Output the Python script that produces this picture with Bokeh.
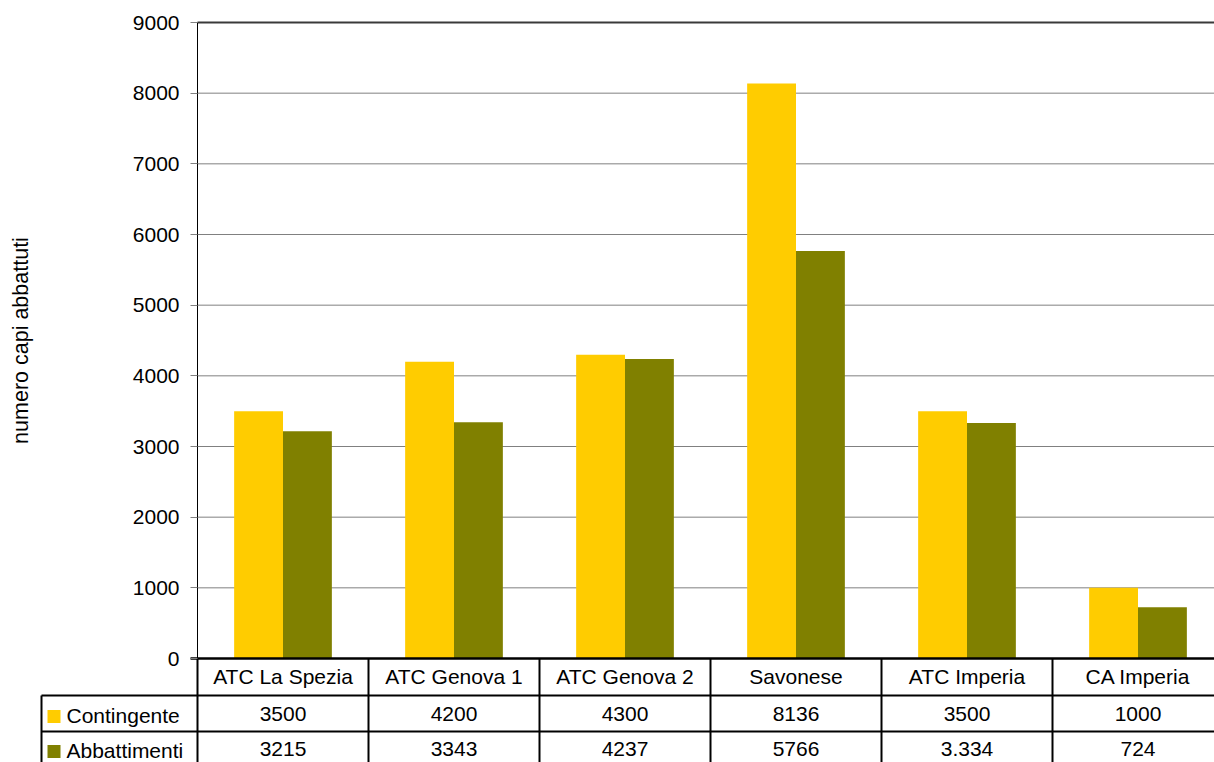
import math
from bokeh.plotting import figure
from bokeh.models import Range1d, LinearAxis, FixedTicker
from bokeh.core.properties import value
from bokeh.embed import file_html
from bokeh.resources import INLINE

# ---- data ----
categories = ["ATC La Spezia", "ATC Genova 1", "ATC Genova 2", "Savonese", "ATC Imperia", "CA Imperia"]
series_names = ["Contingente", "Abbattimenti"]
contingente = [3500, 4200, 4300, 8136, 3500, 1000]
abbattimenti = [3215, 3343, 4237, 5766, 3334, 724]
contingente_labels = ["3500", "4200", "4300", "8136", "3500", "1000"]
abbattimenti_labels = ["3215", "3343", "4237", "5766", "3.334", "724"]
y_ticks = [0, 1000, 2000, 3000, 4000, 5000, 6000, 7000, 8000, 9000]
y_title = "numero capi abbattuti"

colors = ["#FFCC00", "#808000"]
FONT = "Liberation Sans"
FS = "21px"

W, H = 1214, 762
left_px, top_px, zero_px = 197, 22, 658
cat_px = 171.0
ppu = (zero_px - top_px) / 9000.0
x_start = -left_px / cat_px
x_end = (W - left_px) / cat_px
y_start = -(H - zero_px) / ppu
y_end = 9000 + top_px / ppu

p = figure(width=W, height=H, output_backend="svg", toolbar_location=None,
           x_range=Range1d(x_start, x_end), y_range=Range1d(y_start, y_end),
           x_axis_location=None, y_axis_location=None, min_border=0,
           outline_line_color=None, background_fill_color="white",
           border_fill_color="white")
p.xgrid.visible = False
p.ygrid.visible = False
p.extra_x_ranges = {"px": Range1d(0, W)}
p.extra_y_ranges = {"px": Range1d(H, 0)}

n = len(categories)
xmax = max(y_ticks)

# gridlines
grid_y = [t for t in y_ticks if 0 < t < xmax]
p.segment(x0=[0] * len(grid_y), x1=[x_end] * len(grid_y), y0=grid_y, y1=grid_y,
          line_color="#808080", line_width=1)
p.segment(x0=[0], x1=[x_end], y0=[xmax], y1=[xmax], line_color="#3a3a3a", line_width=2)

# bars
bw = 1 / 3.5
centers = [i + 0.5 for i in range(n)]
p.vbar(x=[c - bw / 2 for c in centers], top=contingente, bottom=0, width=bw,
       fill_color=colors[0], line_color=None)
p.vbar(x=[c + bw / 2 for c in centers], top=abbattimenti, bottom=0, width=bw,
       fill_color=colors[1], line_color=None)

# y axis
yaxis = LinearAxis(fixed_location=0, ticker=FixedTicker(ticks=y_ticks),
                   bounds=(y_start, xmax))
yaxis.axis_line_color = "black"
yaxis.axis_line_width = 1
yaxis.major_tick_out = 7
yaxis.major_tick_in = 0
yaxis.major_tick_line_color = "#808080"
yaxis.minor_tick_line_color = None
yaxis.major_label_standoff = 11
yaxis.major_label_text_font = FONT
yaxis.major_label_text_font_size = FS
yaxis.major_label_text_font_style = "normal"
yaxis.major_label_text_color = "black"
p.add_layout(yaxis, "left")

# zero line (table top border)
p.segment(x0=[-7 / cat_px], x1=[x_end], y0=[0], y1=[0], line_color="black", line_width=2.5)

# table
row1, row2, bottom = 695, 731, H
p.segment(x0=[41, 41], x1=[W, W], y0=[row1, row2], y1=[row1, row2],
          x_range_name="px", y_range_name="px", line_color="black", line_width=2)
p.segment(x0=[41], x1=[41], y0=[row1], y1=[bottom],
          x_range_name="px", y_range_name="px", line_color="black", line_width=2)
seps = list(range(0, n))
p.segment(x0=seps, x1=seps, y0=[zero_px] * n, y1=[bottom] * n,
          y_range_name="px", line_color="black", line_width=2)

txt = dict(text_font=value(FONT), text_font_size=FS, text_color="black",
           text_baseline="middle", y_range_name="px")
p.text(x=centers, y=[676] * n, text=categories, text_align="center", **txt)
p.text(x=centers, y=[713] * n, text=contingente_labels, text_align="center", **txt)
p.text(x=centers, y=[748] * n, text=abbattimenti_labels, text_align="center", **txt)

# row headers
p.rect(x=[53.5, 53.5], y=[716, 751], width=13, height=13, fill_color=colors,
       line_color=None, x_range_name="px", y_range_name="px")
p.text(x=[66, 66], y=[715, 750], text=series_names, text_align="left",
       text_font=value(FONT), text_font_size=FS, text_color="black",
       text_baseline="middle", x_range_name="px", y_range_name="px")

# y title
p.text(x=[20], y=[340], text=[y_title], angle=math.pi / 2, text_align="center",
       text_font=value(FONT), text_font_size="21.5px", text_color="black",
       text_baseline="middle", x_range_name="px", y_range_name="px")

open("out.html", "w").write(file_html(p, INLINE))
